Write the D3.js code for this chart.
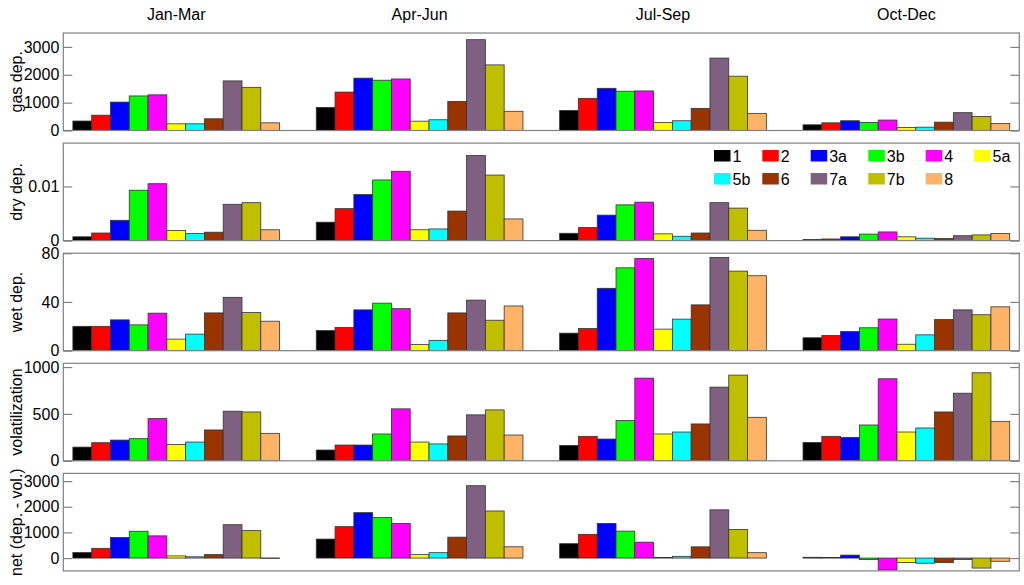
<!DOCTYPE html>
<html><head><meta charset="utf-8">
<script src="https://cdn.jsdelivr.net/npm/d3@7/dist/d3.min.js"></script>
<style>body{margin:0;background:#fff}svg{display:block;font-family:"Liberation Sans",Arial,sans-serif}</style>
</head><body><svg id="c" width="1024" height="585"></svg>
<script>
const quarters = ["Jan-Mar","Apr-Jun","Jul-Sep","Oct-Dec"];
const sources = ["1","2","3a","3b","4","5a","5b","6","7a","7b","8"];
const colors = ["#000000","#ff0000","#0000ff","#00ff00","#ff00ff","#ffff00","#00ffff","#993300","#806080","#bfbf00","#ffb366"];

const gasDep = [
  [340, 550, 1020, 1240, 1280, 240, 240, 420, 1780, 1550, 275],
  [830, 1380, 1880, 1805, 1850, 335, 385, 1045, 3260, 2355, 690],
  [720, 1155, 1515, 1410, 1420, 290, 350, 795, 2600, 1950, 615],
  [205, 275, 350, 290, 375, 110, 120, 300, 640, 505, 255]
];
const dryDep = [
  [0.0007, 0.0014, 0.00375, 0.0093, 0.0105, 0.00185, 0.0013, 0.00155, 0.0067, 0.0070, 0.0020],
  [0.0034, 0.0059, 0.0085, 0.0112, 0.0128, 0.0020, 0.00215, 0.00545, 0.0157, 0.0121, 0.0040],
  [0.00135, 0.0024, 0.0047, 0.0066, 0.0071, 0.00125, 0.0008, 0.0014, 0.0070, 0.0060, 0.0019],
  [0.0002, 0.0003, 0.0007, 0.0012, 0.0016, 0.0007, 0.00045, 0.0004, 0.0009, 0.00105, 0.0013]
];
const wetDep = [
  [20, 20, 25.3, 21.2, 30.8, 9.5, 13.6, 31, 43.8, 31.3, 24.2],
  [16.5, 19, 33.5, 39, 34.5, 5, 8.5, 31, 41.5, 25, 36.7],
  [14.4, 18.2, 51.2, 68, 75.7, 17.7, 25.9, 37.6, 76.5, 65.3, 61.5],
  [10.6, 12.4, 15.7, 18.8, 26, 5.3, 13, 25.5, 33.5, 29.5, 36]
];
const volat = [
  [146, 193, 221, 236, 450, 175, 200, 329, 529, 521, 293],
  [115, 168, 168, 286, 554, 200, 180, 265, 490, 543, 275],
  [164, 261, 232, 429, 882, 286, 307, 393, 786, 914, 464],
  [196, 261, 250, 382, 875, 307, 350, 521, 721, 939, 421]
];
const net = [
  [215, 380, 800, 1045, 865, 85, 50, 135, 1300, 1070, 5],
  [740, 1225, 1770, 1580, 1350, 135, 210, 815, 2820, 1835, 440],
  [560, 925, 1350, 1050, 620, 20, 68, 437, 1880, 1115, 210],
  [30, 25, 115, -60, -460, -170, -200, -180, -55, -390, -125]
];

const panelLabels = ["gas dep.","dry dep.","wet dep.","volatilization","net (dep. - vol.)"];
const panelData = [gasDep, dryDep, wetDep, volat, net];
const panelDomains = [[0,3500],[0,0.018],[0,80],[0,1040],[-500,3300]];
const panelTicks = [[0,1000,2000,3000],[0,0.01],[0,40,80],[0,500,1000],[0,1000,2000,3000]];

const svg = d3.select("#c");
const L = 63.3, R = 1019.3, top0 = 33, step = 110.1, H = 97.5;
const x = d3.scaleLinear().domain([0.536, 4.464]).range([L, R]);
const barW = 0.0772;
const axisColor = "#808080";

quarters.forEach((q,i)=>{
  svg.append("text").attr("x", x(i+1)).attr("y", 20).attr("text-anchor","middle")
    .attr("font-size", 16).text(q);
});

panelData.forEach((data, p)=>{
  const t = top0 + p*step;
  const y = d3.scaleLinear().domain(panelDomains[p]).range([t+H, t]);
  const g = svg.append("g");
  const cid = "clip"+p;
  svg.append("clipPath").attr("id",cid).append("rect").attr("x",L).attr("y",t).attr("width",R-L).attr("height",H);
  const bars = g.append("g").attr("clip-path",`url(#${cid})`);
  data.forEach((vals, qi)=>{
    vals.forEach((v, si)=>{
      const x0 = x(qi+1 + (si-5.5)*barW), x1 = x(qi+1 + (si-4.5)*barW);
      const y0 = y(Math.max(0,v)), y1 = y(Math.min(0,v));
      bars.append("rect").attr("x",x0).attr("y",y0).attr("width",x1-x0).attr("height",Math.max(0.5,y1-y0))
        .attr("fill",colors[si]).attr("stroke","#333").attr("stroke-width",0.8);
    });
  });
  // border
  g.append("rect").attr("x",L).attr("y",t).attr("width",R-L).attr("height",H)
    .attr("fill","none").attr("stroke",axisColor).attr("stroke-width",1.2);
  // left axis
  const la = d3.axisLeft(y).tickValues(panelTicks[p]).tickSize(-9).tickPadding(4).tickFormat(d=>d3.format("")(d));
  const ag = g.append("g").attr("transform",`translate(${L},0)`).call(la);
  ag.select(".domain").remove();
  ag.selectAll(".tick line").attr("stroke",axisColor).attr("stroke-width",1.2);
  ag.selectAll(".tick text").attr("font-size",16).attr("fill","#000").attr("font-family","Liberation Sans, Arial, sans-serif").attr("x",-4);
  const ra = d3.axisRight(y).tickValues(panelTicks[p]).tickSize(-9).tickFormat("");
  const rg = g.append("g").attr("transform",`translate(${R},0)`).call(ra);
  rg.select(".domain").remove();
  rg.selectAll(".tick line").attr("stroke",axisColor).attr("stroke-width",1.2);
  // y label
  svg.append("text").attr("transform",`translate(22,${t+H/2}) rotate(-90)`)
    .attr("text-anchor","middle").attr("font-size",16).text(panelLabels[p]);
});

// legend inside dry dep panel
const legColX = [0, 48.3, 96.7, 154.3, 211.7, 260];
const legX0 = 714, legY0 = 150, legRow = 23;
sources.forEach((s,i)=>{
  const row = i<6?0:1, col = i<6?i:i-6;
  const lx = legX0 + legColX[col], ly = legY0 + row*legRow;
  svg.append("rect").attr("x",lx).attr("y",ly).attr("width",16.5).attr("height",11.5).attr("fill",colors[i]);
  svg.append("text").attr("x",lx+18.5).attr("y",ly+11.5).attr("font-size",16).text(s);
});
</script></body></html>
